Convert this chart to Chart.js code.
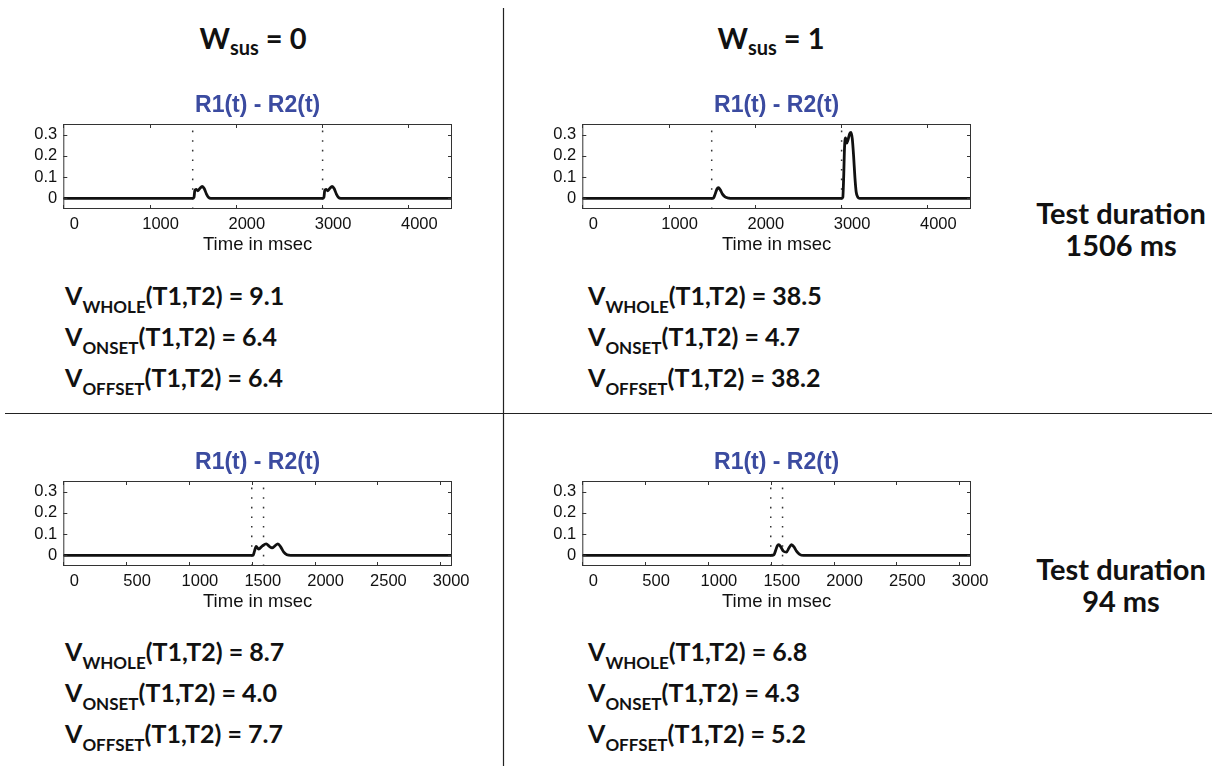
<!DOCTYPE html>
<html>
<head>
<meta charset="utf-8">
<script src="https://cdn.jsdelivr.net/npm/chart.js@4"></script>
<style>
  html, body { margin: 0; padding: 0; background: #fff; }
  #page { position: relative; width: 1212px; height: 766px; overflow: hidden; }
  svg.overlay { position: absolute; left: 0; top: 0; }
  .panel { position: absolute; }
  .hdr { font-family: Lato, "Open Sans", sans-serif; font-weight: 700; font-size: 29px; fill: #111; }
  .hdr .sub { font-size: 20px; }
  .v { font-family: Lato, "Open Sans", sans-serif; font-weight: 700; font-size: 25px; fill: #111; }
  .v .sub { font-size: 17px; }
  .dur { font-family: Lato, "Open Sans", sans-serif; font-weight: 700; font-size: 29px; fill: #111; }
</style>
</head>
<body>
<div id="page">
<svg class="overlay" width="1212" height="766">
  <line x1="503.5" y1="8" x2="503.5" y2="766" stroke="#222" stroke-width="1.2"/>
  <line x1="5" y1="413.5" x2="1212" y2="413.5" stroke="#222" stroke-width="1.2"/>

  <text class="hdr" x="253" y="49" text-anchor="middle">W<tspan class="sub" dy="6">sus</tspan><tspan dy="-6"> = 0</tspan></text>
  <text class="hdr" x="771" y="49" text-anchor="middle">W<tspan class="sub" dy="6">sus</tspan><tspan dy="-6"> = 1</tspan></text>

  <text class="dur" x="1121" y="224" text-anchor="middle">Test duration</text>
  <text class="dur" x="1121" y="256" text-anchor="middle">1506 ms</text>
  <text class="dur" x="1121" y="580" text-anchor="middle">Test duration</text>
  <text class="dur" x="1121" y="612" text-anchor="middle">94 ms</text>

  <text class="v" x="65" y="305">V<tspan class="sub" dy="8">WHOLE</tspan><tspan dy="-8">(T1,T2) = 9.1</tspan></text>
  <text class="v" x="65" y="346">V<tspan class="sub" dy="8">ONSET</tspan><tspan dy="-8">(T1,T2) = 6.4</tspan></text>
  <text class="v" x="65" y="387">V<tspan class="sub" dy="8">OFFSET</tspan><tspan dy="-8">(T1,T2) = 6.4</tspan></text>

  <text class="v" x="588" y="305">V<tspan class="sub" dy="8">WHOLE</tspan><tspan dy="-8">(T1,T2) = 38.5</tspan></text>
  <text class="v" x="588" y="346">V<tspan class="sub" dy="8">ONSET</tspan><tspan dy="-8">(T1,T2) = 4.7</tspan></text>
  <text class="v" x="588" y="387">V<tspan class="sub" dy="8">OFFSET</tspan><tspan dy="-8">(T1,T2) = 38.2</tspan></text>

  <text class="v" x="65" y="661">V<tspan class="sub" dy="8">WHOLE</tspan><tspan dy="-8">(T1,T2) = 8.7</tspan></text>
  <text class="v" x="65" y="702">V<tspan class="sub" dy="8">ONSET</tspan><tspan dy="-8">(T1,T2) = 4.0</tspan></text>
  <text class="v" x="65" y="743">V<tspan class="sub" dy="8">OFFSET</tspan><tspan dy="-8">(T1,T2) = 7.7</tspan></text>

  <text class="v" x="588" y="661">V<tspan class="sub" dy="8">WHOLE</tspan><tspan dy="-8">(T1,T2) = 6.8</tspan></text>
  <text class="v" x="588" y="702">V<tspan class="sub" dy="8">ONSET</tspan><tspan dy="-8">(T1,T2) = 4.3</tspan></text>
  <text class="v" x="588" y="743">V<tspan class="sub" dy="8">OFFSET</tspan><tspan dy="-8">(T1,T2) = 5.2</tspan></text>
</svg>
<div class="panel" style="left:0px;top:85px"><canvas id="c1" width="500" height="175"></canvas></div>
<div class="panel" style="left:519px;top:85px"><canvas id="c2" width="500" height="175"></canvas></div>
<div class="panel" style="left:0px;top:442px"><canvas id="c3" width="500" height="175"></canvas></div>
<div class="panel" style="left:519px;top:442px"><canvas id="c4" width="500" height="175"></canvas></div>
</div>

<script>
// Tick labels
const longTicks = [0, 1000, 2000, 3000, 4000];
const shortTicks = [0, 500, 1000, 1500, 2000, 2500, 3000];
const yTicks = [0, 0.1, 0.2, 0.3];
const longEnd = 4506;  // 1500 + 1506 + 1500
const shortEnd = 3094; // 1500 + 94 + 1500

// W_sus = 0, test 1506 ms
const t1 = [0, 1500, 1515, 1525, 1540, 1560, 1585, 1610, 1635, 1660, 1685, 1710,
            3006, 3021, 3031, 3046, 3066, 3091, 3116, 3141, 3166, 3191, 3216, 4506];
const r1 = [0, 0, 0.005, 0.038, 0.042, 0.036, 0.048, 0.056, 0.045, 0.02, 0.004, 0,
            0, 0.005, 0.038, 0.042, 0.036, 0.048, 0.056, 0.045, 0.02, 0.004, 0, 0];
const m1 = [1500, 3006];

// W_sus = 1, test 1506 ms
const t2 = [0, 1510, 1522, 1540, 1560, 1578, 1600, 1625, 1655, 1700, 1730,
            3006, 3020, 3030, 3040, 3052, 3066, 3080, 3100, 3115, 3130, 3145, 3160, 3175, 3195, 3215, 4506];
const r2 = [0, 0, 0.002, 0.02, 0.043, 0.05, 0.04, 0.02, 0.007, 0.001, 0,
            0, 0.005, 0.1, 0.24, 0.285, 0.26, 0.275, 0.305, 0.31, 0.28, 0.2, 0.1, 0.03, 0.005, 0, 0];
const m2 = [1500, 3006];

// W_sus = 0, test 94 ms
const t3 = [0, 1510, 1522, 1535, 1555, 1585, 1615, 1640, 1662, 1685, 1708, 1730, 1755, 1780, 1810, 3094];
const r3 = [0, 0, 0.02, 0.042, 0.03, 0.045, 0.054, 0.042, 0.035, 0.045, 0.054, 0.04, 0.015, 0.003, 0, 0];
const m3 = [1500, 1594];

// W_sus = 1, test 94 ms
const t4 = [0, 1500, 1525, 1540, 1552, 1563, 1580, 1600, 1625, 1645, 1665, 1685, 1705, 1730, 1760, 3094];
const r4 = [0, 0, 0.003, 0.025, 0.045, 0.05, 0.04, 0.02, 0.015, 0.035, 0.05, 0.04, 0.02, 0.005, 0, 0];
const m4 = [1500, 1594];

const tickFont = { family: "'Liberation Sans', Arial, sans-serif", size: 16.5 };

// MATLAB style frame with inward ticks on all four sides
const matlabBox = {
    id: "matlabBox",
    afterDatasetsDraw(chart) {
        const { ctx, chartArea: a, scales } = chart;
        ctx.save();
        ctx.strokeStyle = "#333";
        ctx.lineWidth = 1;
        ctx.strokeRect(a.left + 0.5, a.top + 0.5, a.right - a.left - 1, a.bottom - a.top - 1);
        ctx.beginPath();
        scales.x.ticks.forEach(t => {
            const px = Math.round(scales.x.getPixelForValue(t.value)) + 0.5;
            ctx.moveTo(px, a.bottom); ctx.lineTo(px, a.bottom - 4);
            ctx.moveTo(px, a.top); ctx.lineTo(px, a.top + 4);
        });
        scales.y.ticks.forEach(t => {
            const py = Math.round(scales.y.getPixelForValue(t.value)) + 0.5;
            ctx.moveTo(a.left, py); ctx.lineTo(a.left + 4, py);
            ctx.moveTo(a.right, py); ctx.lineTo(a.right - 4, py);
        });
        ctx.stroke();
        ctx.restore();
    }
};

const makePanel = function (id, times, values, markers, xTicks, xEnd) {
    const datasets = [{
        data: times.map((t, i) => ({ x: t, y: values[i] })),
        borderColor: "#111",
        borderWidth: 2.8,
        pointRadius: 0,
        cubicInterpolationMode: "monotone",
        fill: false,
    }];
    markers.forEach(m => datasets.push({
        data: [{ x: m, y: -0.05 }, { x: m, y: 0.35 }],
        borderColor: "#333",
        borderWidth: 1.5,
        borderDash: [1.6, 8],
        pointRadius: 0,
    }));

    new Chart(document.getElementById(id), {
        type: "line",
        data: { datasets },
        plugins: [matlabBox],
        options: {
            responsive: false,
            animation: false,
            events: [],
            layout: { padding: { left: 0, right: 48, top: 0, bottom: 0 } },
            plugins: {
                legend: { display: false },
                tooltip: { enabled: false },
                title: {
                    display: true,
                    text: "R1(t) - R2(t)",
                    color: "#3b4ba0",
                    font: { family: "'Liberation Sans', Arial, sans-serif", size: 23, weight: "bold" },
                    fullSize: false,
                    padding: { top: 7, bottom: 4.4 },
                },
            },
            scales: {
                x: {
                    type: "linear",
                    min: 0,
                    max: xEnd,
                    afterBuildTicks: s => { s.ticks = xTicks.map(v => ({ value: v })); },
                    afterFit: s => { s.height = 51; },
                    grid: { display: false, drawTicks: false },
                    border: { display: false },
                    ticks: {
                        font: tickFont, color: "#111", padding: 6, labelOffset: 11,
                        maxRotation: 0, autoSkip: false,
                        callback: v => String(v),
                    },
                    title: {
                        display: true, text: "Time in msec", color: "#111",
                        font: { family: "'Liberation Sans', Arial, sans-serif", size: 18.5 },
                        padding: { top: 0, bottom: 4 },
                    },
                },
                y: {
                    min: -0.05,
                    max: 0.35,
                    afterBuildTicks: s => { s.ticks = yTicks.map(v => ({ value: v })); },
                    afterFit: s => { s.width = 63.3; },
                    grid: { display: false, drawTicks: false },
                    border: { display: false },
                    ticks: {
                        font: tickFont, color: "#111", padding: 6,
                        callback: v => (v === 0 ? "0" : v.toFixed(1)),
                    },
                },
            },
        },
    });
};

makePanel("c1", t1, r1, m1, longTicks, longEnd);
makePanel("c2", t2, r2, m2, longTicks, longEnd);
makePanel("c3", t3, r3, m3, shortTicks, shortEnd);
makePanel("c4", t4, r4, m4, shortTicks, shortEnd);
</script>
</body>
</html>
